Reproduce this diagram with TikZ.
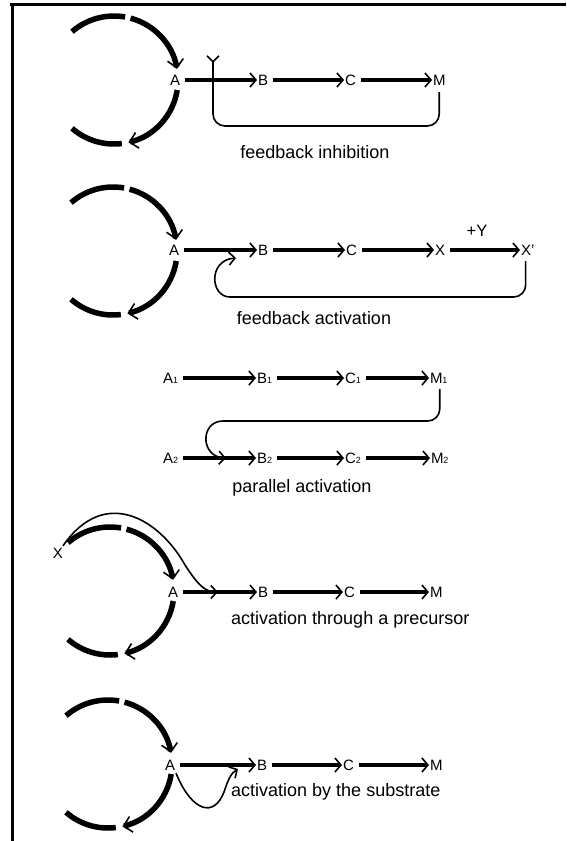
\documentclass[tikz,border=0pt]{standalone}
\usepackage{fontspec}
\setmainfont{Liberation Sans}
\usetikzlibrary{arrows.meta}
\newcommand\sbs[1]{{\fontsize{9}{9}\selectfont #1}}
\tikzset{
  ringline/.style={line width=5.5pt},
  ringtip/.style={-{Straight Barb[length=8pt,width=16pt,line width=1.6pt]}},
  chain/.style={line width=4.5pt, shorten <=4pt,
    -{Straight Barb[length=6pt,width=14pt,line width=1.6pt]}},
  fb/.style={line width=1.6pt,
    -{Straight Barb[length=6pt,width=13pt,line width=1.6pt]}},
  inhib/.style={line width=1.6pt,
    -{Straight Barb[reversed,length=6pt,width=12pt,line width=1.6pt]}},
  mol/.style={font=\fontsize{15}{17}\selectfont, inner sep=0.8pt, anchor=west},
  lbl/.style={font=\fontsize{18}{20}\selectfont, inner sep=0pt},
  enzring/.pic={
    \draw[ringline] (-131:64) arc[start angle=-131, end angle=-80, radius=64];
    \draw[ringline, ringtip] (-75:64) arc[start angle=-75, end angle=-10, radius=64];
    \draw[ringline, ringtip] (9:64) arc[start angle=9, end angle=77, radius=64];
    \draw[ringline] (83:64) arc[start angle=83, end angle=131, radius=64];
  }
}
\begin{document}
\begin{tikzpicture}[x=1pt,y=-1pt]
\useasboundingbox (0,0) rectangle (566,841);
% frame
\draw[line width=3pt] (10,4.5) -- (566,4.5);
\draw[line width=3pt] (12,3) -- (12,841);

% feedback inhibition
\pic at (114,80) {enzring};
\node[mol] (a1) at (169,80) {A};
\node[mol] (b1) at (257,80) {B};
\node[mol] (c1) at (344,80) {C};
\node[mol] (m1) at (432,80) {M};
\draw[chain] (a1.east) -- (b1.west);
\draw[chain] (b1.east) -- (c1.west);
\draw[chain] (c1.east) -- (m1.west);
\coordinate (inh) at (213,55);
\draw[inhib, rounded corners=12pt] ([yshift=-6pt]m1.south) |- (inh |- 0,126) -- (inh);
\node[lbl] (l1) at (315,152) {feedback inhibition};

% feedback activation
\pic at (113,251) {enzring};
\node[mol] (a2) at (168,250) {A};
\node[mol] (b2) at (257,250) {B};
\node[mol] (c2) at (345,250) {C};
\node[mol] (x2) at (434,250) {X};
\node[mol] (xp2) at (520,250) {X’};
\node[mol, anchor=center, font=\fontsize{16.5}{18}\selectfont] (y2) at (477,231) {+Y};
\draw[chain] (a2.east) -- (b2.west);
\draw[chain] (b2.east) -- (c2.west);
\draw[chain] (c2.east) -- (x2.west);
\draw[chain] (x2.east) -- (xp2.west);
\draw[fb] ([xshift=-2pt,yshift=-5pt]xp2.south) [rounded corners=12pt] |- (242,297)
  [sharp corners] .. controls (210,297) and (208,260) .. (236,258);
\node[lbl] (l2) at (314,318) {feedback activation};

% parallel activation
\node[mol] (a31) at (162,378) {A\sbs{1}};
\node[mol] (b31) at (256,378) {B\sbs{1}};
\node[mol] (c31) at (344,378) {C\sbs{1}};
\node[mol] (m31) at (429,378) {M\sbs{1}};
\node[mol] (a32) at (162,458) {A\sbs{2}};
\node[mol] (b32) at (256,458) {B\sbs{2}};
\node[mol] (c32) at (344,458) {C\sbs{2}};
\node[mol] (m32) at (430,458) {M\sbs{2}};
\draw[chain] (a31.east) -- (b31.west);
\draw[chain] (b31.east) -- (c31.west);
\draw[chain] (c31.east) -- (m31.west);
\draw[chain] (a32.east) -- (b32.west);
\draw[chain] (b32.east) -- (c32.west);
\draw[chain] (c32.east) -- (m32.west);
\draw[fb] ([xshift=1pt,yshift=-5pt]m31.south) [rounded corners=12pt] |- (235,421)
  [sharp corners] .. controls (200,421) and (200,457) .. (226,458);
\node[lbl] (l3) at (302,488) {parallel activation};

% activation through a precursor
\pic at (110,591) {enzring};
\node[mol] (a4) at (167,592) {A};
\node[mol] (b4) at (257,592) {B};
\node[mol] (c4) at (343,592) {C};
\node[mol] (m4) at (429,592) {M};
\node[mol, anchor=center] (x4) at (58,553) {X};
\draw[chain] (a4.east) -- (b4.west);
\draw[chain] (b4.east) -- (c4.west);
\draw[chain] (c4.east) -- (m4.west);
\draw[fb] ([xshift=-1pt,yshift=1pt]x4.north east) .. controls (105,485) and (160,520) .. (185,565)
  .. controls (198,585) and (205,592) .. (218,592);
\node[lbl, anchor=west] (l4) at (231,620) {activation through a precursor};

% activation by the substrate
\pic at (108,764) {enzring};
\node[mol] (a5) at (164,765) {A};
\node[mol] (b5) at (256,765) {B};
\node[mol] (c5) at (342,765) {C};
\node[mol] (m5) at (429,765) {M};
\draw[chain] (a5.east) -- (b5.west);
\draw[chain] (b5.east) -- (c5.west);
\draw[chain] (c5.east) -- (m5.west);
\draw[fb] ([yshift=-2pt]a5.south east) .. controls (192,812) and (214,818) .. (224,792)
  .. controls (228,780) and (231,773) .. (238,769);
\node[lbl, anchor=west] (l5) at (231,792) {activation by the substrate};
\end{tikzpicture}
\end{document}
